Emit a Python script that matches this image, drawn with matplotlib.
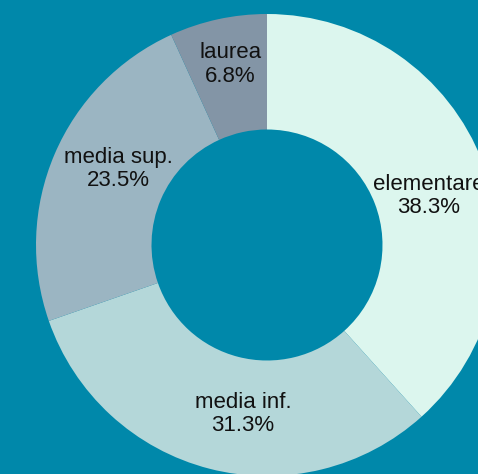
import matplotlib
matplotlib.use("Agg")
import numpy as np
import matplotlib.pyplot as plt

labels = ["elementare", "media inf.", "media sup.", "laurea"]
shares = [38.3, 31.3, 23.5, 6.8]
colors = ["#dcf6ee", "#b4d7d9", "#9bb5c2", "#8395a6"]
# small nudges (pixels) of each label away from the ring's mid radius
label_nudge = [(0, -13), (19, -1), (11, 8), (0, 11)]

bg = "#0088aa"
plt.rcParams["font.family"] = ["Liberation Sans", "DejaVu Sans"]

fig = plt.figure(figsize=(4.78, 4.74), dpi=100, facecolor=bg)
ax = fig.add_axes([0, 0, 1, 1])
ax.set_facecolor(bg)

wedges, _ = ax.pie(
    shares, colors=colors, startangle=90, counterclock=False,
    radius=1.0, wedgeprops=dict(width=0.5, linewidth=0),
)
for w, lab, val, (nx, ny) in zip(wedges, labels, shares, label_nudge):
    ang = np.deg2rad((w.theta1 + w.theta2) / 2)
    r = 0.75
    ax.annotate(f"{lab}\n{val}%", (r * np.cos(ang), r * np.sin(ang)),
                xytext=(nx, ny), textcoords="offset pixels",
                ha="center", va="center", fontsize=16, color="#111111",
                linespacing=1.15)

# place the pie centre at (267, 245) px with a 231 px radius
s = 231.0
ax.set_xlim(-267 / s, (478 - 267) / s)
ax.set_ylim(-(474 - 245) / s, 245 / s)
ax.set_aspect("auto")
ax.axis("off")

fig.savefig("out.png", dpi=100, facecolor=bg)
